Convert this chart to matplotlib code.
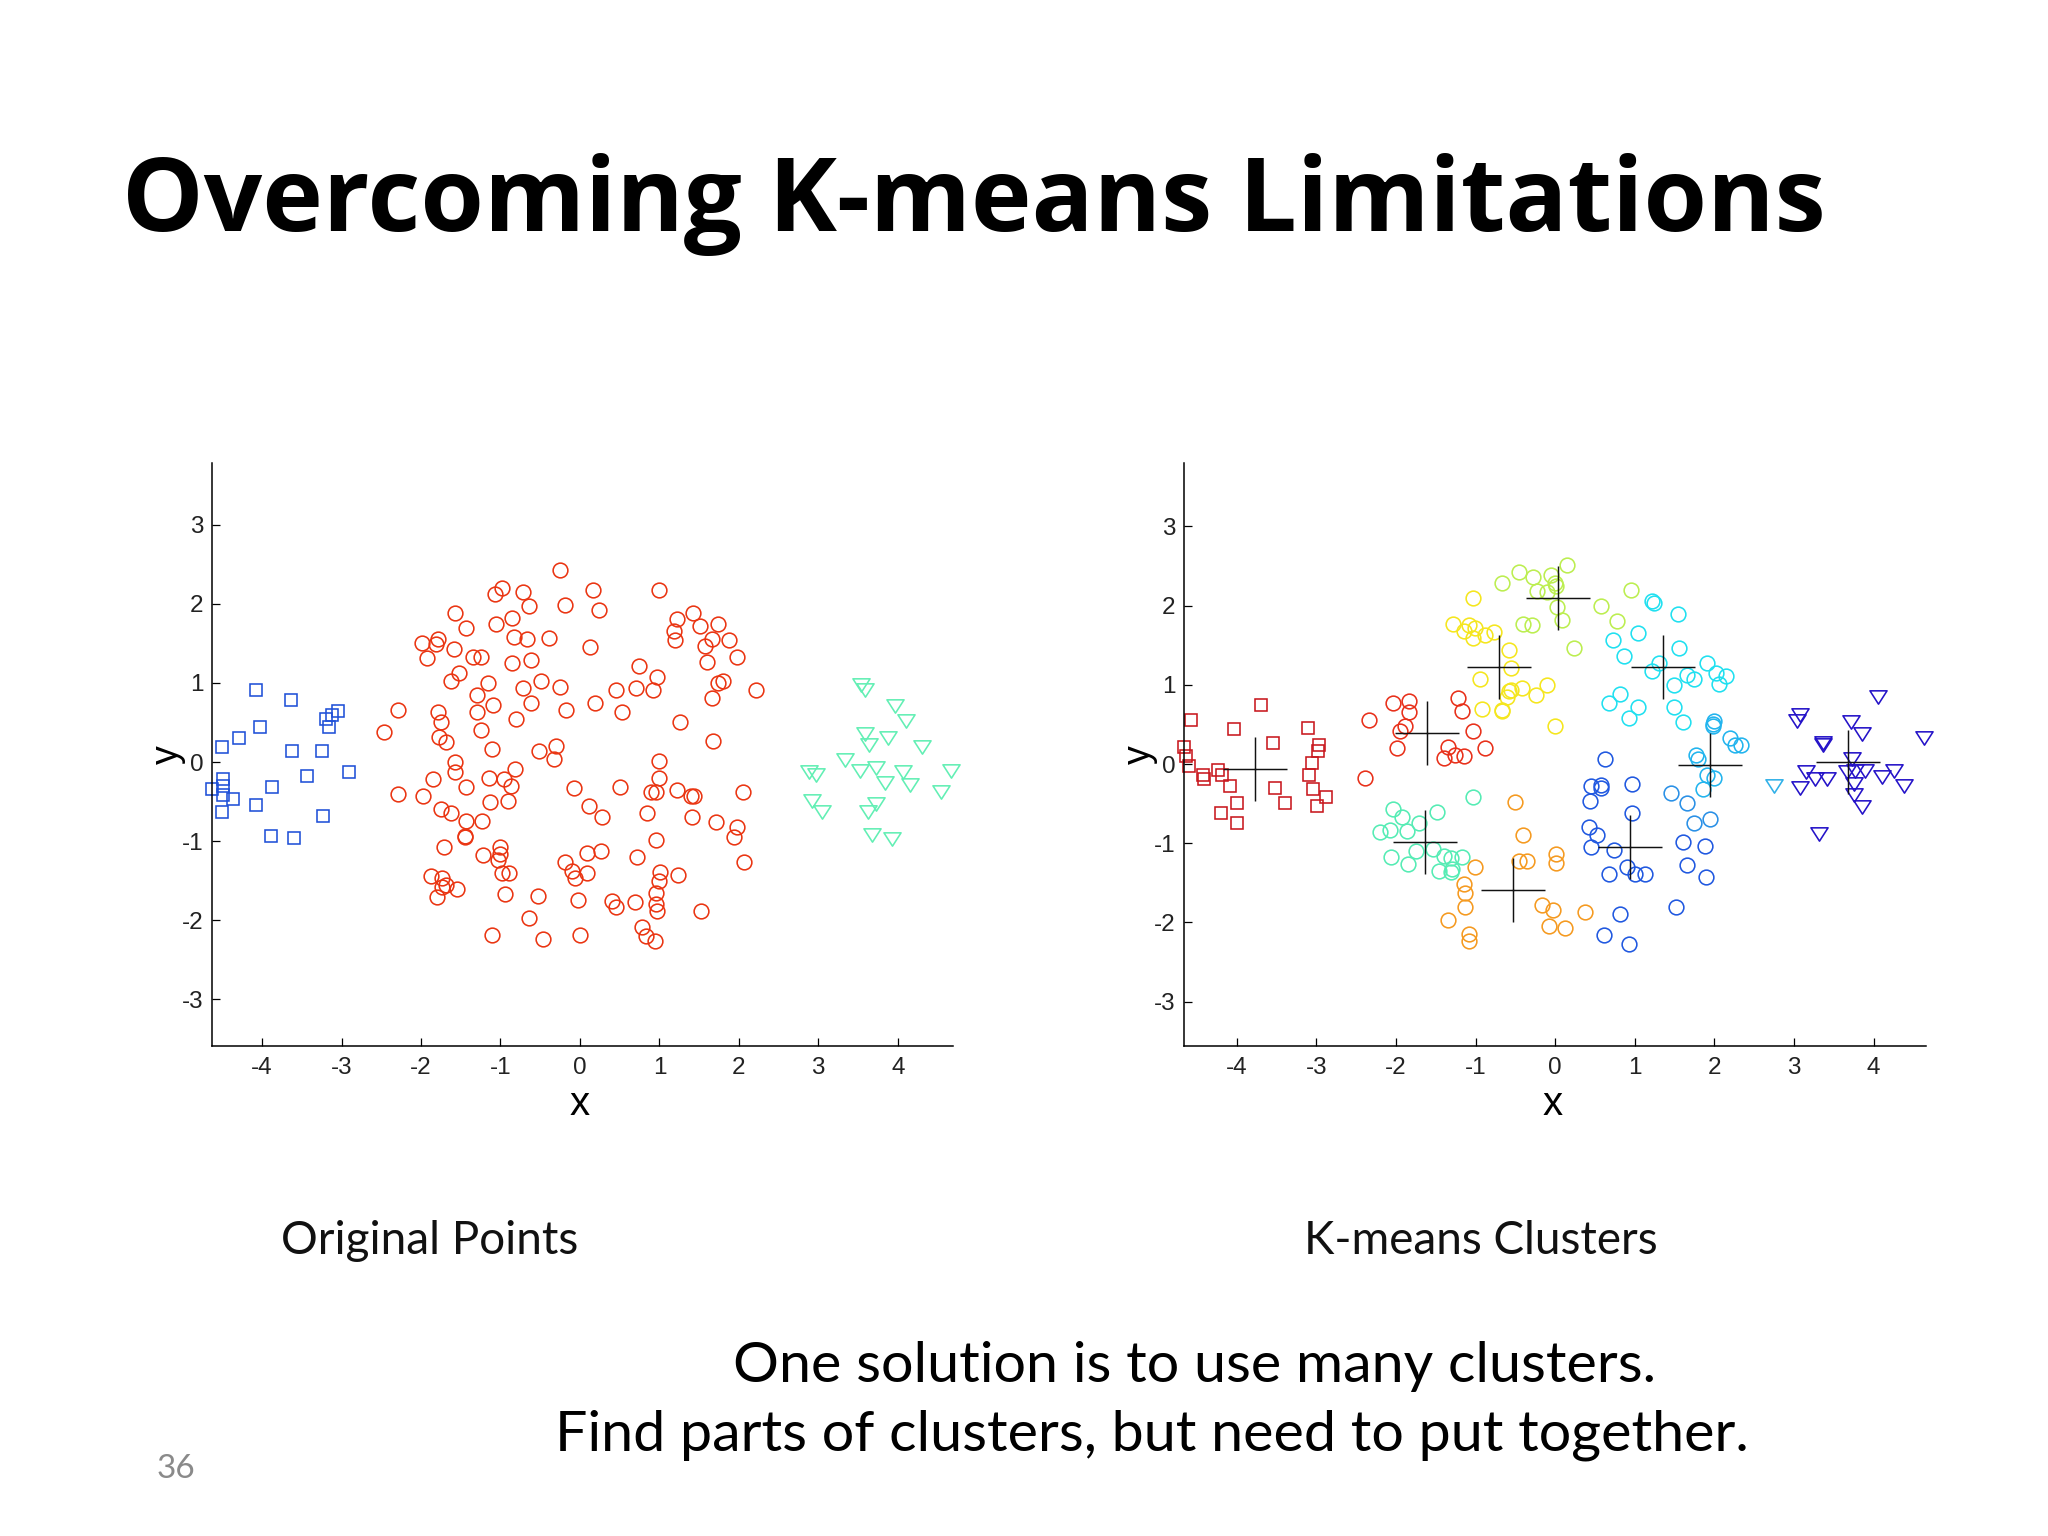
import matplotlib
matplotlib.use("Agg")
import matplotlib.pyplot as plt
from matplotlib.path import Path
import numpy as np

title_text = "Overcoming K-means Limitations"
caption_left = "Original Points"
caption_right = "K-means Clusters"
note_lines = ["One solution is to use many clusters.", "Find parts of clusters, but need to put together."]
page_number = "36"
x_ticks = [-4, -3, -2, -1, 0, 1, 2, 3, 4]
y_ticks = [-3, -2, -1, 0, 1, 2, 3]

orig_squares = [(-4.08,.91),(-3.64,.79),(-3.05,.64),(-3.12,.60),(-3.20,.55),(-3.16,.44),(-4.03,.44),(-4.29,.30),(-4.51,.19),(-3.62,.14),(-3.25,.14),(-2.91,-.13),(-3.44,-.18),(-3.87,-.31),(-4.49,-.21),(-4.49,-.30),(-4.63,-.34),(-4.49,-.42),(-4.36,-.47),(-4.08,-.54),(-4.51,-.63),(-3.23,-.68),(-3.89,-.93),(-3.60,-.96)]
orig_circles = [(-.25,2.43),(.17,2.18),(-.98,2.20),(-1.07,2.13),(-.72,2.15),(-.64,1.97),(-.19,1.99),(.24,1.92),(-1.57,1.88),(-1.43,1.70),(-1.06,1.74),(-.85,1.82),(-.83,1.58),(-.67,1.56),(-.39,1.57),(.13,1.45),(-1.99,1.51),(-1.78,1.55),(-1.81,1.49),(-1.92,1.31),(-1.59,1.43),(-1.34,1.33),(-1.24,1.33),(-.85,1.25),(-.62,1.29),(-1.52,1.13),(-1.62,1.03),(-1.16,1.00),(-.49,1.02),(-.25,.95),(-.72,.93),(-1.29,.85),(-1.09,.72),(-.62,.74),(.19,.74),(-.18,.66),(-1.29,.63),(-.80,.55),(-1.78,.63),(-1.75,.50),(-2.29,.66),(-2.47,.38),(-1.77,.32),(-1.68,.25),(-1.25,.41),(-1.11,.17),(-.51,.14),(-.30,.20),(-.32,.04),(-1.57,0),(-1.57,-.13),(-.82,-.09),(-1.85,-.22),(-1.14,-.20),(-.95,-.22),(-.87,-.30),(-1.43,-.31),(-.08,-.33),(-2.29,-.40),(-1.98,-.43),(-1.75,-.60),(-1.62,-.65),(-1.13,-.51),(-.90,-.49),(.11,-.56),(.28,-.70),(-1.43,-.75),(-1.23,-.75),(-1.44,-.93),(-1.44,-.95),(-1.71,-1.08),(-1.22,-1.17),(-1.00,-1.08),(-1.01,-1.16),(-1.03,-1.24),(.09,-1.15),(.27,-1.13),(-.19,-1.27),(-.10,-1.38),(-.06,-1.47),(.09,-1.40),(-.98,-1.40),(-.89,-1.40),(-1.87,-1.44),(-1.74,-1.47),(-1.69,-1.56),(-1.74,-1.58),(-1.55,-1.60),(-1.80,-1.71),(-.94,-1.67),(-.53,-1.69),(-.03,-1.74),(-.64,-1.97),(-1.11,-2.19),(-.46,-2.24),(0,-2.19),
(.99,2.18),(1.42,1.88),(1.22,1.81),(1.51,1.72),(1.74,1.75),(1.19,1.65),(1.20,1.54),(1.66,1.56),(1.58,1.47),(1.87,1.54),(1.98,1.33),(1.60,1.27),(.74,1.22),(.97,1.08),(.46,.91),(.70,.93),(.92,.91),(1.80,1.02),(1.74,1.00),(1.66,.81),(2.21,.91),(.53,.63),(1.26,.50),(1.67,.27),(.99,.01),(.99,-.20),(.50,-.31),(.89,-.38),(.96,-.38),(1.22,-.36),(1.40,-.43),(1.43,-.43),(2.05,-.38),(.85,-.65),(1.41,-.70),(1.71,-.76),(1.98,-.82),(1.94,-.95),(.96,-.99),(.72,-1.20),(2.06,-1.27),(1.01,-1.39),(1.23,-1.43),(.99,-1.50),(.96,-1.66),(.96,-1.79),(.97,-1.88),(.69,-1.77),(.41,-1.76),(.46,-1.83),(1.52,-1.88),(.78,-2.08),(.83,-2.20),(.94,-2.26)]
orig_triangles = [(3.54,.97),(3.59,.91),(3.96,.71),(4.10,.52),(3.59,.35),(3.64,.21),(3.88,.30),(4.31,.19),(3.34,.03),(2.88,-.12),(2.97,-.17),(3.52,-.11),(3.72,-.07),(4.07,-.12),(3.84,-.26),(4.15,-.29),(4.67,-.11),(4.54,-.38),(2.92,-.49),(3.05,-.63),(3.73,-.53),(3.63,-.63),(3.68,-.92),(3.93,-.97)]

km_darkred = [(-3.70,.75),(-4.57,.55),(-4.03,.44),(-3.11,.46),(-3.55,.26),(-2.97,.24),(-4.66,.21),(-2.98,.17),(-4.64,.10),(-3.05,.01),(-4.60,-.02),(-4.23,-.08),(-4.43,-.14),(-4.18,-.14),(-4.41,-.19),(-3.09,-.14),(-4.09,-.28),(-3.52,-.30),(-3.04,-.31),(-2.88,-.42),(-4.00,-.49),(-3.39,-.49),(-2.99,-.53),(-4.20,-.62),(-4.00,-.75)]
km_red = [(-2.34,.55),(-2.04,.77),(-1.84,.79),(-1.84,.66),(-1.89,.48),(-1.95,.42),(-1.99,.20),(-1.22,.83),(-1.17,.67),(-1.03,.42),(-.88,.20),(-1.35,.22),(-1.26,.11),(-1.40,.07),(-1.15,.10),(-2.39,-.18)]
km_yellow = [(-1.03,2.09),(-1.28,1.77),(-1.15,1.68),(-1.08,1.75),(-1.01,1.72),(-1.03,1.59),(-.88,1.63),(-.77,1.67),(-.58,1.44),(-.55,1.21),(-.95,1.07),(-.55,.94),(-.58,.92),(-.60,.84),(-.42,.96),(-.24,.87),(-.10,1.00),(-.92,.69),(-.67,.68),(-.67,.67),(0,.48)]
km_lime = [(-.67,2.29),(-.45,2.42),(-.28,2.36),(-.05,2.38),(.15,2.51),(-.23,2.18),(-.10,2.17),(0,2.29),(.01,2.25),(.02,1.98),(.08,1.82),(-.40,1.77),(-.29,1.75),(.24,1.47),(.95,2.20),(.58,2.00),(.78,1.80)]
km_cyan = [(1.21,2.06),(1.24,2.03),(1.54,1.89),(.72,1.57),(1.04,1.66),(.86,1.36),(1.56,1.46),(1.31,1.28),(1.22,1.17),(1.66,1.12),(1.74,1.07),(1.49,1.00),(1.91,1.28),(2.02,1.15),(2.15,1.11),(2.06,1.01),(.81,.89),(.67,.77),(1.04,.72),(.93,.58),(1.49,.72),(1.61,.53)]
km_sky = [(2.00,.54),(1.98,.51),(1.98,.48),(2.20,.33),(2.26,.24),(2.34,.24),(1.77,.12),(1.79,.06),(1.91,-.14),(1.99,-.18),(1.86,-.31)]
km_azure = [(1.45,-.37),(1.65,-.49),(1.74,-.74),(1.95,-.69)]
km_blue = [(.62,.06),(.45,-.28),(.58,-.26),(.58,-.30),(.97,-.25),(.44,-.47),(.96,-.62),(.42,-.80),(.53,-.89),(.45,-1.05),(.74,-1.08),(.67,-1.39),(.90,-1.30),(1.00,-1.39),(1.13,-1.39),(1.61,-.99),(1.88,-1.03),(1.66,-1.28),(1.90,-1.43),(1.52,-1.80),(.81,-1.89),(.61,-2.16),(.93,-2.27)]
km_teal = [(-2.04,-.57),(-1.93,-.67),(-1.49,-.60),(-1.71,-.75),(-2.20,-.86),(-2.07,-.83),(-1.86,-.84),(-1.03,-.42),(-1.75,-1.10),(-1.54,-1.07),(-2.06,-1.18),(-1.85,-1.26),(-1.40,-1.16),(-1.31,-1.19),(-1.17,-1.18),(-1.46,-1.35),(-1.30,-1.33),(-1.31,-1.36)]
km_orange = [(-.50,-.48),(-.40,-.89),(-.45,-1.22),(-.36,-1.23),(.01,-1.13),(.01,-1.25),(-1.01,-1.30),(-1.15,-1.51),(-1.13,-1.63),(-1.13,-1.81),(-1.35,-1.97),(-1.08,-2.15),(-1.08,-2.23),(-.17,-1.78),(-.03,-1.84),(-.08,-2.05),(.12,-2.07),(.37,-1.87)]
km_navy = [(4.06,.85),(3.07,.62),(3.04,.54),(3.71,.53),(3.85,.38),(4.63,.33),(3.37,.26),(3.37,.24),(3.73,.06),(3.15,-.10),(3.66,-.10),(3.76,-.09),(3.89,-.09),(3.26,-.19),(3.42,-.19),(4.11,-.16),(4.25,-.09),(3.07,-.30),(4.38,-.28),(3.75,-.25),(3.75,-.39),(3.85,-.54),(3.32,-.88)]
km_lightblue_tri = [(2.75,-.28)]
centroids = [(-3.77,-.06),(-1.61,.39),(-.71,1.23),(.03,2.09),(-1.63,-.98),(-.53,-1.59),(1.36,1.23),(1.95,-.01),(.94,-1.05),(3.68,.03)]

W, H = 2048, 1536
fig = plt.figure(figsize=(W/100, H/100), dpi=100, facecolor="white")

def px_axes(l, r, t, b):
    return fig.add_axes([l/W, 1-b/H, (r-l)/W, (b-t)/H])

tri = Path([(-1, .78), (1, .78), (0, -.78), (-1, .78)], closed=True)

def draw(ax, pts, marker, color, ms, mew=1.15):
    xs, ys = zip(*pts)
    ax.plot(xs, ys, ls="none", marker=marker, mfc="none", mec=color, ms=ms, mew=mew, clip_on=False)

def style(ax, xlim, ylim):
    ax.set_xlim(*xlim); ax.set_ylim(*ylim)
    for s in ("top", "right"):
        ax.spines[s].set_visible(False)
    for s in ("left", "bottom"):
        ax.spines[s].set_linewidth(1.1)
    ax.set_xticks(x_ticks, [str(v) for v in x_ticks], family="Liberation Sans")
    ax.set_yticks(y_ticks, [str(v) for v in y_ticks], family="Liberation Sans")
    ax.tick_params(direction="in", length=5.8, width=0.9, labelsize=17.5, labelcolor="#222222")
    ax.tick_params(axis="x", pad=8)
    ax.tick_params(axis="y", pad=6)
    ax.set_xlabel("x", fontsize=29, family="Liberation Sans", labelpad=4.5)
    ax.xaxis.label.set_x(0.4965)
    ax.set_ylabel("y", fontsize=27, family="Liberation Sans", labelpad=-3)

SQ, CI, TR = 8.3, 10.6, 12.3
a1 = px_axes(212, 953, 463, 1046)
style(a1, (-4.63, 4.695), (-3.59, 3.78))
draw(a1, orig_squares, "s", "#1f50d8", SQ)
draw(a1, orig_circles, "o", "#ea3512", CI)
draw(a1, orig_triangles, tri, "#62efb4", TR)

a2 = px_axes(1184, 1926, 463, 1046)
style(a2, (-4.663, 4.658), (-3.56, 3.80))
draw(a2, km_darkred, "s", "#c8181e", SQ)
draw(a2, km_red, "o", "#e8301a", CI)
draw(a2, km_orange, "o", "#f59a20", CI)
draw(a2, km_yellow, "o", "#f5e61e", CI)
draw(a2, km_lime, "o", "#bcee50", CI)
draw(a2, km_teal, "o", "#55ecb4", CI)
draw(a2, km_cyan, "o", "#20e0f0", CI)
draw(a2, km_sky, "o", "#22b4ee", CI)
draw(a2, km_azure, "o", "#2a90e6", CI)
draw(a2, km_blue, "o", "#2058e0", CI)
draw(a2, km_navy, tri, "#2412c8", TR)
draw(a2, km_lightblue_tri, tri, "#30b0e8", TR)
cx, cy = zip(*centroids)
a2.plot(cx, cy, ls="none", marker="+", ms=46, mew=1.05, color="#111111", clip_on=False)

fig.text(122/W, 1-230.5/H, title_text, fontsize=74, fontweight="bold", family="Open Sans", color="black", va="baseline", ha="left")
fig.text(429.5/W, 1-1240.5/H, caption_left, fontsize=33, family="Lato", color="#111111", ha="center", va="center")
fig.text(1481/W, 1-1240.5/H, caption_right, fontsize=33, family="Lato", color="#111111", ha="center", va="center")
fig.text(1194.5/W, 1-1367/H, note_lines[0], fontsize=41.3, family="Lato", color="black", ha="center", va="center")
fig.text(1151.5/W, 1-1435/H, note_lines[1], fontsize=41.3, family="Lato", color="black", ha="center", va="center")
fig.text(176/W, 1-1469/H, page_number, fontsize=24, family="Lato", color="#8a8a8a", ha="center", va="center")

fig.savefig("out.png", dpi=100)
